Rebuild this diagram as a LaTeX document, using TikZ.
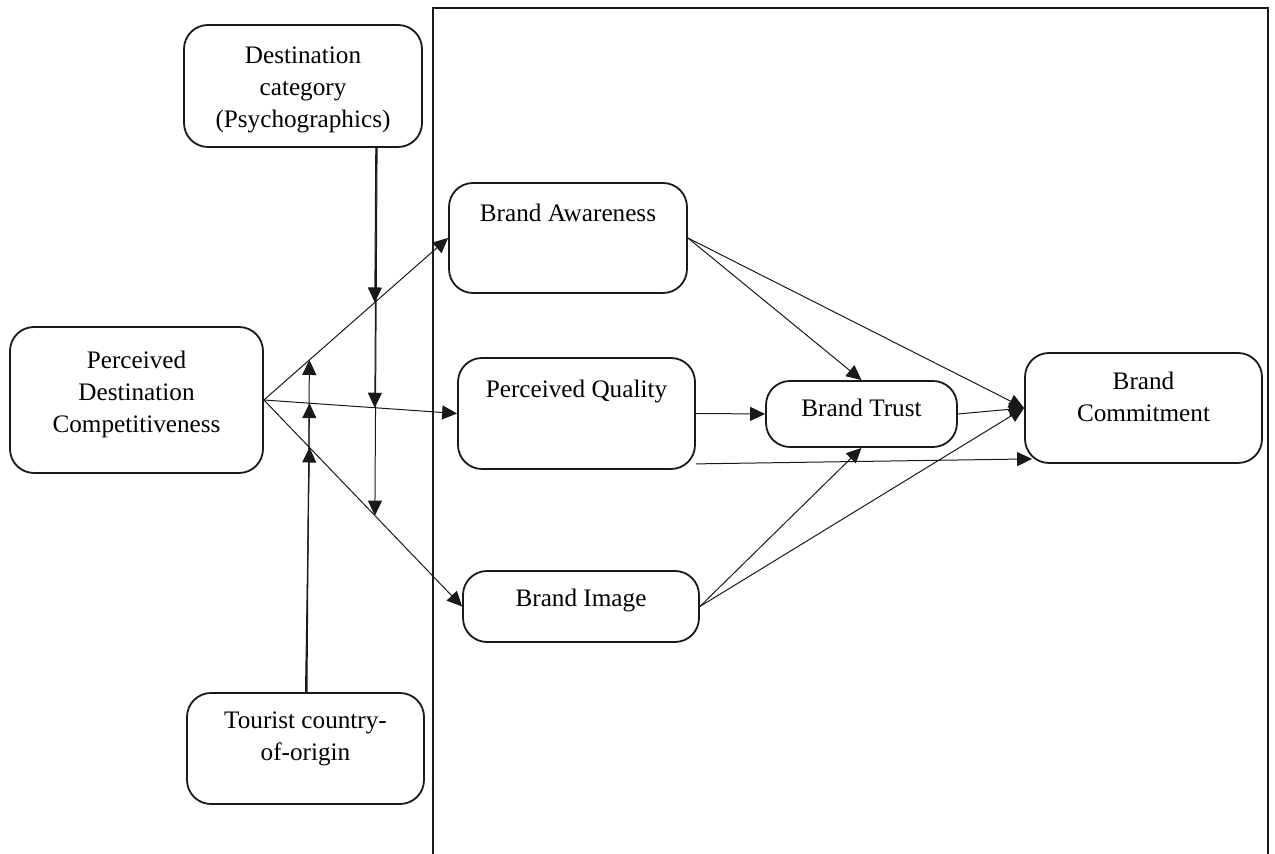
\documentclass[tikz,border=0pt]{standalone}
\usepackage{fontspec}
\setmainfont{Liberation Serif}
\usepackage{tikz}
\usetikzlibrary{arrows.meta, calc}
\tikzset{
  box/.style  = {rectangle, draw=black!90, line width=0.9pt, rounded corners=12pt,
                 align=center, inner sep=0pt,
                 font=\fontsize{12.6}{16}\selectfont},
  arr/.style  = {-{Triangle[length=7.5pt, width=7pt]}, line width=0.5pt, black!90},
  frame/.style = {draw=black!90, line width=0.9pt},
}

\begin{document}
\begin{tikzpicture}[x=0.5pt, y=-0.5pt]
  \useasboundingbox (0,0) rectangle (1275,854);

  \draw[frame] (433,854) -- (433,8) -- (1268,8) -- (1268,854);

  \node[box, minimum width=119pt, text height=51.5pt, text depth=9.5pt] (dest) at (303,86)
    {Destination\\ category\\ (Psychographics)};
  \node[box, minimum width=126.5pt, text height=53pt, text depth=20pt] (pdc) at (136.5,400)
    {Perceived\\ Destination\\ Competitiveness};
  \node[box, minimum width=118.5pt, text height=34pt, text depth=21.5pt] (origin) at (305.5,748.5)
    {Tourist country-\\ of-origin};

  \node[box, minimum width=119pt, text height=19.5pt, text depth=35.5pt] (aware) at (568,238)
    {Brand Awareness};
  \node[box, minimum width=118.5pt, text height=20pt, text depth=35.5pt] (quality) at (576.5,413.5)
    {Perceived Quality};
  \node[box, minimum width=118pt, text height=18pt, text depth=17.5pt] (image) at (581,606.5)
    {Brand Image};
  \node[box, minimum width=95.5pt, text height=18pt, text depth=15pt] (trust) at (861.5,414)
    {Brand Trust};
  \node[box, minimum width=118.5pt, text height=34.5pt, text depth=20.5pt] (commit) at (1143.5,408)
    {Brand\\ Commitment};

  \draw[arr] (pdc.east) -- (aware.west);
  \draw[arr] (pdc.east) -- (quality.west);
  \draw[arr] (pdc.east) -- (image.west);

  \coordinate (da) at ($(pdc.east)!0.602!(aware.west)$);
  \coordinate (dq) at ($(pdc.east)!0.574!(quality.west)$);
  \coordinate (di) at ($(pdc.east)!0.560!(image.west)$);
  \coordinate (oa) at ($(pdc.east)!0.247!(aware.west)$);
  \coordinate (oq) at ($(pdc.east)!0.236!(quality.west)$);
  \coordinate (oi) at ($(pdc.east)!0.230!(image.west)$);

  \draw[arr] ([xshift=0.5pt]dest.south -| da) -- (da);
  \draw[arr] ([xshift=0.8pt]dest.south -| dq) -- (dq);
  \draw[arr] ([xshift=1.1pt]dest.south -| di) -- (di);
  \draw[arr] ([xshift=-1.2pt]origin.north -| oa) -- (oa);
  \draw[arr] ([xshift=-1.6pt]origin.north -| oq) -- (oq);
  \draw[arr] ([xshift=-2pt]origin.north -| oi) -- (oi);

  \draw[arr] (aware.east) -- (trust.north);
  \draw[arr] (aware.east) -- (commit.west);
  \draw[arr] (quality.east) -- (trust.west);
  \draw[arr] ([yshift=3pt]quality.south east) -- ([shift={(4pt,2.5pt)}]commit.south west);
  \draw[arr] (trust.east) -- (commit.west);
  \draw[arr] (image.east) -- (trust.south);
  \draw[arr] (image.east) -- (commit.west);
\end{tikzpicture}
\end{document}
